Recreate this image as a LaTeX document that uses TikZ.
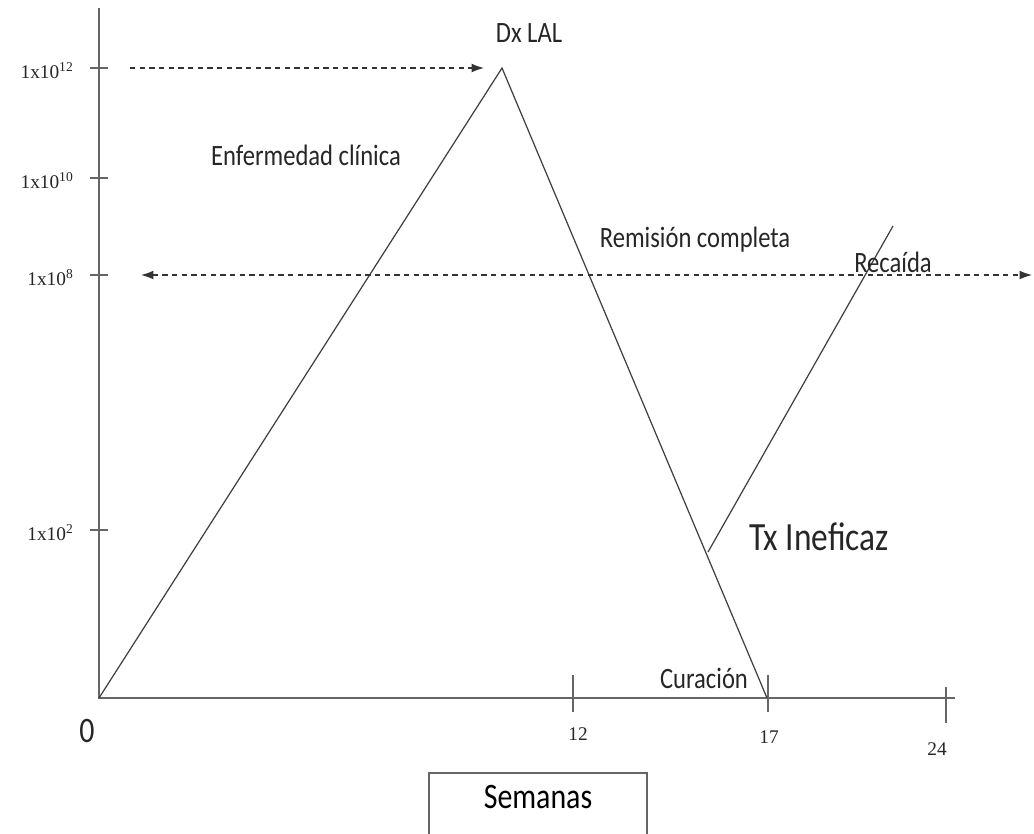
\documentclass[tikz,border=0pt]{standalone}
\usepackage{fontspec}
\setmainfont{Carlito}
\newfontfamily\marcafont{Liberation Serif}
\usetikzlibrary{positioning,arrows.meta}
\newcommand{\alto}[1]{\scalebox{1}[1.2]{#1}}

\tikzset{
  eje/.style={draw=black!60, line width=1.1pt},
  curva/.style={draw=black!75, line width=0.7pt},
  texto/.style={inner sep=0pt, text=black!85, font=\fontsize{14}{16}\selectfont},
  marca/.style={inner sep=0pt, text=black!85, font=\marcafont\fontsize{11}{13}\selectfont},
  guia/.style={draw=black!80, line width=0.7pt, dash pattern=on 3pt off 2.5pt, -{Latex[length=7pt,width=5pt]}}
}

\begin{document}
\begin{tikzpicture}[x=0.02cm, y=-0.02cm]
\useasboundingbox (0,0) rectangle (1034,833);
\coordinate (origen) at (99,698);
\coordinate (techo) at (99,8);
\coordinate (finx) at (955,698);
\coordinate (pico) at (502,68);
\coordinate (cura) at (767,698);
\coordinate (falla) at (708,552);
\coordinate (rebrote) at (893,226);
% ejes
\draw[eje] (techo) -- (origen) -- (finx);
\foreach \y/\e in {68/12, 178/10, 275/8, 530/2}{
  \draw[eje] (90,\y) -- (108,\y);
  \node[marca, anchor=east] at (74,\y+3) {1x10\textsuperscript{\e}};
}
\foreach \x/\t/\b in {573/675/712, 768/675/712, 946/687/723}{
  \draw[eje] (\x,\t) -- (\x,\b);
}
\node[marca] (d12) at (578,734) {12};
\node[marca] (d17) at (769,737) {17};
\node[marca] (d24) at (937,749) {24};
\node[texto, font=\fontsize{17}{20}\selectfont] (cero) at (87,731) {\alto{0}};
% curvas
\draw[curva] (origen) -- (pico) -- (cura);
\draw[curva] (falla) -- (rebrote);
% flechas
\coordinate (a1) at (130,68);
\coordinate (b1) at (484,68);
\coordinate (a2) at (141,275);
\coordinate (b2) at (1032,275);
\draw[guia] (a1) -- (b1);
\draw[guia, {Latex[length=7pt,width=5pt]}-{Latex[length=7pt,width=5pt]}] (a2) -- (b2);
% textos
\node[texto] (dx) at (529,33) {\alto{Dx LAL}};
\node[texto] (enf) at (306,155) {\alto{Enfermedad clínica}};
\node[texto] (rem) at (695,240) {\alto{Remisión completa}};
\node[texto] (rec) at (893,262) {\alto{Recaída}};
\node[texto, font=\fontsize{19}{22}\selectfont] (tx) at (819,537) {\alto{Tx Ineficaz}};
\node[texto] (cur) at (704,678) {\alto{Curación}};
\node[draw=black!60, line width=1.1pt, minimum width=218*0.02cm, minimum height=70*0.02cm,
  anchor=north, font=\fontsize{17}{20}\selectfont] (sem) at (538,772) {\raisebox{0.45cm}{\alto{Semanas}}};
\end{tikzpicture}
\end{document}
